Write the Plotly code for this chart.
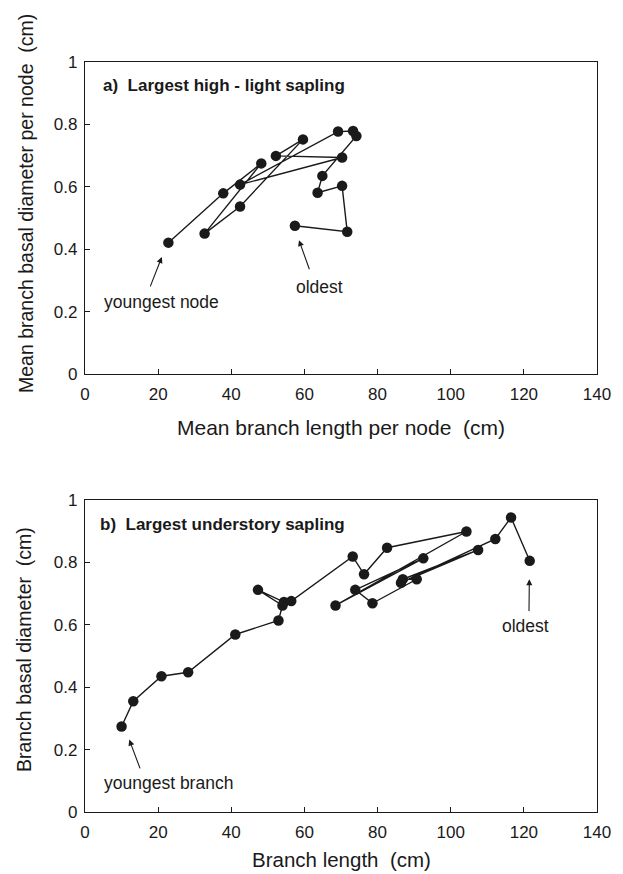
import plotly.graph_objects as go

# (a) Largest high-light sapling: mean branch length / basal diameter per node,
# ordered from the youngest node to the oldest
a_length = [22.8, 37.8, 48.2, 32.7, 42.4, 59.6, 52.2, 70.3, 42.4, 69.2, 73.3,
            74.2, 64.9, 63.6, 70.3, 71.7, 57.4]
a_diameter = [0.421, 0.579, 0.675, 0.450, 0.537, 0.752, 0.699, 0.694, 0.607,
              0.777, 0.779, 0.763, 0.635, 0.581, 0.603, 0.456, 0.475]

# (b) Largest understory sapling: branch length / basal diameter per branch,
# ordered from the youngest branch to the oldest
b_length = [10.0, 13.2, 20.9, 28.2, 41.1, 52.9, 54.0, 47.3, 54.4, 56.4, 73.2,
            76.3, 82.6, 104.3, 68.5, 92.5, 73.9, 78.6, 90.7, 86.9, 107.5, 86.4,
            112.2, 116.5, 121.6]
b_diameter = [0.274, 0.355, 0.435, 0.448, 0.569, 0.614, 0.662, 0.712, 0.673,
              0.676, 0.819, 0.762, 0.847, 0.899, 0.662, 0.813, 0.712, 0.669,
              0.746, 0.746, 0.840, 0.735, 0.875, 0.944, 0.805]

x_ticks = [0, 20, 40, 60, 80, 100, 120, 140]
y_ticks = [0, 0.2, 0.4, 0.6, 0.8, 1]

FONT = "Liberation Sans, Arial, Helvetica, sans-serif"
INK = "#1a1a1a"

fig = go.Figure()

for xs, ys, xa, ya in [(a_length, a_diameter, "x", "y"),
                       (b_length, b_diameter, "x2", "y2")]:
    fig.add_trace(go.Scatter(
        x=xs, y=ys, xaxis=xa, yaxis=ya, mode="lines+markers",
        line=dict(color=INK, width=1.4),
        marker=dict(color=INK, size=10.5),
        showlegend=False, hoverinfo="skip"))

axis_common = dict(
    showline=True, mirror=True, linecolor=INK, linewidth=1.2,
    ticks="inside", ticklen=5, tickwidth=1, tickcolor=INK,
    showgrid=False, zeroline=False,
    tickfont=dict(family=FONT, size=17, color=INK),
)

fig.update_layout(
    width=623, height=874,
    margin=dict(l=85, r=17, t=62, b=62),
    paper_bgcolor="white", plot_bgcolor="white",
    font=dict(family=FONT, color=INK),
    xaxis=dict(axis_common, range=[0, 140], tickvals=x_ticks,
               ticklabelstandoff=4, domain=[0, 1], anchor="y"),
    yaxis=dict(axis_common, range=[0, 1], tickvals=y_ticks,
               ticklabelstandoff=3, domain=[0.584, 1], anchor="x"),
    xaxis2=dict(axis_common, range=[0, 140], tickvals=x_ticks,
                ticklabelstandoff=4, domain=[0, 1], anchor="y2"),
    yaxis2=dict(axis_common, range=[0, 1], tickvals=y_ticks,
                ticklabelstandoff=3, domain=[0, 0.416], anchor="x2"),
)

def label(text, x, y, xref, yref, size=17.5, bold=False, **kw):
    kw.setdefault("xanchor", "center")
    kw.setdefault("yanchor", "middle")
    fig.add_annotation(
        text=f"<b>{text}</b>" if bold else text, x=x, y=y,
        xref=xref, yref=yref, showarrow=False,
        font=dict(family=FONT, size=size, color=INK), **kw)

def arrow(x_head, y_head, x_tail, y_tail, xref, yref):
    fig.add_annotation(
        x=x_head, y=y_head, ax=x_tail, ay=y_tail,
        xref=xref, yref=yref, axref=xref, ayref=yref, text="",
        showarrow=True, arrowhead=2, arrowsize=1.1, arrowwidth=1.1,
        arrowcolor=INK)

# panel titles
label("a)  Largest high - light sapling", 4.5, 0.924, "x", "y",
      size=17, bold=True, xanchor="left")
label("b)  Largest understory sapling", 3.5, 0.923, "x2", "y2",
      size=17, bold=True, xanchor="left")

# callouts, panel a
label("youngest node", 20.8, 0.231, "x", "y")
arrow(21.0, 0.375, 17.7, 0.276, "x", "y")
label("oldest", 64.0, 0.279, "x", "y")
arrow(58.5, 0.429, 61.5, 0.331, "x", "y")

# callouts, panel b
label("youngest branch", 22.8, 0.093, "x2", "y2")
arrow(12.1, 0.232, 15.2, 0.135, "x2", "y2")
label("oldest", 120.5, 0.595, "x2", "y2")
arrow(121.5, 0.746, 121.4, 0.639, "x2", "y2")

# axis titles
label("Mean branch length per node  (cm)", 0.5, (812 - 427) / 750,
      "paper", "paper", size=21)
label("Mean branch basal diameter per node  (cm)", (25 - 85) / 521,
      (812 - 204) / 750, "paper", "paper", size=19.5, textangle=-90)
label("Branch length  (cm)", 0.5, (812 - 859) / 750, "paper", "paper",
      size=20.5)
label("Branch basal diameter  (cm)", (23 - 85) / 521,
      (812 - 650) / 750, "paper", "paper", size=19.5, textangle=-90)

fig.write_html("out.html")
